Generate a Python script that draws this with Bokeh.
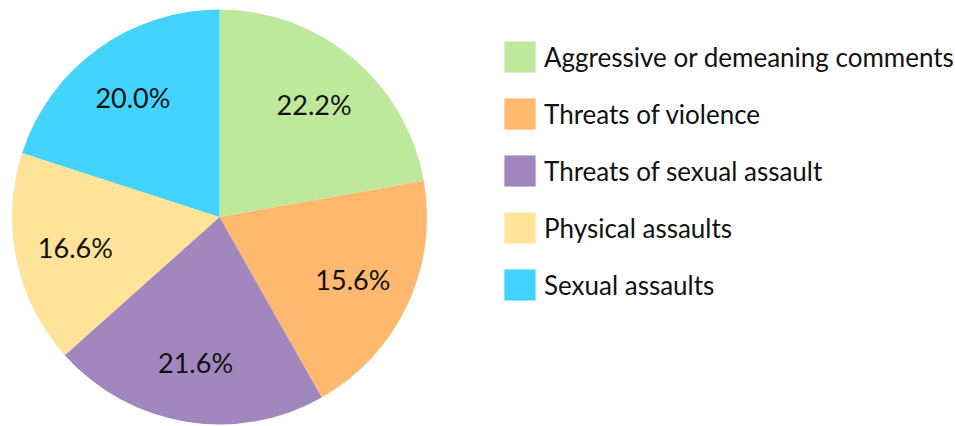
import math
from bokeh.plotting import figure
from bokeh.models import Range1d, Legend, LegendItem, ColumnDataSource
from bokeh.core.properties import value
from bokeh.embed import file_html
from bokeh.resources import INLINE

categories = ["Aggressive or demeaning comments", "Threats of violence",
              "Threats of sexual assault", "Physical assaults", "Sexual assaults"]
shares = [22.2, 19.6, 21.6, 16.6, 20.0]          # slice sizes as drawn
labels = ["22.2%", "15.6%", "21.6%", "16.6%", "20.0%"]  # printed labels
colors = ["#bee89c", "#ffb96e", "#a287bf", "#fee398", "#42d4fc"]

W, H = 955, 426
cx, cy, R = 219, 209.5, 207.5

p = figure(width=W, height=H, output_backend="svg", toolbar_location=None,
           x_range=Range1d(0, W), y_range=Range1d(0, H), min_border=0)
p.axis.visible = False
p.grid.visible = False
p.outline_line_color = None

total = sum(shares)
cum = 0.0
starts, ends, lx, ly = [], [], [], []
for s in shares:
    a0 = math.pi / 2 - 2 * math.pi * (cum + s) / total
    a1 = math.pi / 2 - 2 * math.pi * cum / total
    starts.append(a0)
    ends.append(a1)
    mid = (a0 + a1) / 2
    lx.append(cx + 0.71 * R * math.cos(mid))
    ly.append(cy + 0.71 * R * math.sin(mid))
    cum += s

src = ColumnDataSource(dict(start=starts, end=ends, color=colors, cat=categories,
                            lx=lx, ly=ly, lab=labels))
items = []
for i in range(len(shares)):
    r = p.wedge(x=cx, y=cy, radius=R, start_angle=starts[i], end_angle=ends[i],
                fill_color=colors[i], line_color=None)
    items.append(LegendItem(label=categories[i], renderers=[r]))

p.text(x="lx", y="ly", text="lab", source=src, text_align="center",
       text_baseline="middle", text_font=value("Lato"), text_font_size="27px",
       text_color="#111111")

legend = Legend(items=items, location=(500, 122), glyph_width=39, glyph_height=39,
                spacing=18, label_standoff=5, padding=0, margin=0,
                border_line_color=None, background_fill_alpha=0,
                label_text_font="Lato", label_text_font_size="26px",
                label_text_color="#111111")
p.add_layout(legend, "center")

open("out.html", "w").write(file_html(p, INLINE))
